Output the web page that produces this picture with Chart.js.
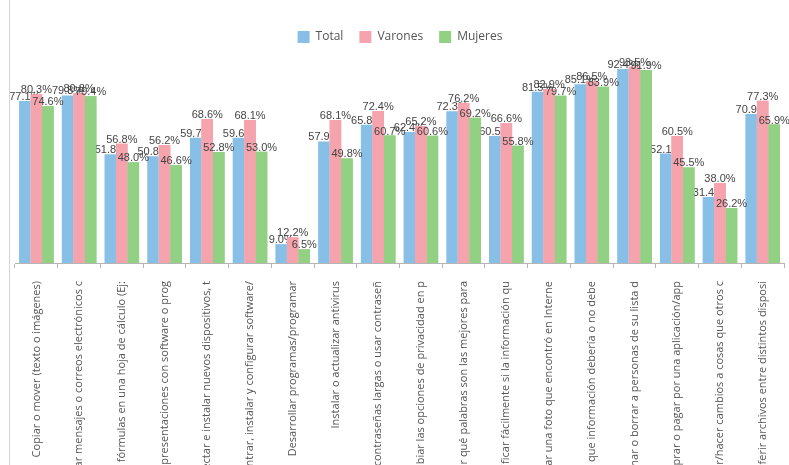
<!DOCTYPE html>
<html>
<head>
<meta charset="utf-8">
<script src="https://cdn.jsdelivr.net/npm/chart.js@4.4.1/dist/chart.umd.min.js"></script>
<style>
  html, body { margin: 0; padding: 0; background: #fff; }
  #wrap { position: relative; width: 789px; height: 465px; }
  #edge { position: absolute; left: 9px; top: 0; width: 1px; height: 465px; background: #d4d4d4; }
</style>
</head>
<body>
<div id="wrap">
  <canvas id="c" width="789" height="465"></canvas>
  <div id="edge"></div>
</div>
<script>
const categories = [
  "Copiar o mover (texto o imágenes)",
  "Enviar mensajes o correos electrónicos c",
  "Usar fórmulas en una hoja de cálculo (Ej:",
  "Crear presentaciones con software o prog",
  "Conectar e instalar nuevos dispositivos, t",
  "Encontrar, instalar y configurar software/",
  "Desarrollar programas/programar",
  "Instalar o actualizar antivirus",
  "Usar contraseñas largas o usar contraseñ",
  "Cambiar las opciones de privacidad en p",
  "Saber qué palabras son las mejores para",
  "Identificar fácilmente si la información qu",
  "Guardar una foto que encontró en Interne",
  "Saber que información debería o no debe",
  "Eliminar o borrar a personas de su lista d",
  "Comprar o pagar por una aplicación/app",
  "Editar/hacer cambios a cosas que otros c",
  "Transferir archivos entre distintos disposi"
];
const seriesNames = ["Total", "Varones", "Mujeres"];
const totalValues   = [77.1, 79.8, 51.8, 50.8, 59.7, 59.6,  9.0, 57.9, 65.8, 62.4, 72.3, 60.5, 81.5, 85.1, 92.4, 52.1, 31.4, 70.9];
const varonesValues = [80.3, 80.8, 56.8, 56.2, 68.6, 68.1, 12.2, 68.1, 72.4, 65.2, 76.2, 66.6, 82.9, 86.5, 93.5, 60.5, 38.0, 77.3];
const mujeresValues = [74.6, 79.4, 48.0, 46.6, 52.8, 53.0,  6.5, 49.8, 60.7, 60.6, 69.2, 55.8, 79.7, 83.9, 91.9, 45.5, 26.2, 65.9];

const colors = ["#88bfe6", "#f5a3ad", "#92d083"];

const barLabels = {
  id: 'barLabels',
  afterDatasetsDraw(chart) {
    const ctx = chart.ctx;
    const area = chart.chartArea;
    const n = chart.data.datasets.length;
    for (let i = 0; i < n; i++) {
      const meta = chart.getDatasetMeta(i);
      if (i > 0) {
        ctx.save();
        ctx.beginPath();
        ctx.rect(area.left, area.top - 20, area.right - area.left, area.bottom - area.top + 20);
        ctx.clip();
        meta.data.forEach(el => el.draw(ctx));
        ctx.restore();
      }
      ctx.save();
      ctx.font = '11px "Liberation Sans", Arial, sans-serif';
      ctx.fillStyle = '#444';
      ctx.textAlign = 'center';
      ctx.textBaseline = 'alphabetic';
      const vals = chart.data.datasets[i].data;
      meta.data.forEach((el, j) => {
        ctx.fillText(vals[j].toFixed(1) + '%', el.x, el.y - 1);
      });
      ctx.restore();
    }
  }
};

new Chart(document.getElementById('c'), {
  type: 'bar',
  data: {
    labels: categories,
    datasets: [
      { label: seriesNames[0], data: totalValues,   backgroundColor: colors[0] },
      { label: seriesNames[1], data: varonesValues, backgroundColor: colors[1] },
      { label: seriesNames[2], data: mujeresValues, backgroundColor: colors[2] }
    ]
  },
  options: {
    responsive: false,
    animation: false,
    events: [],
    layout: { padding: { left: 15, right: 4, top: 15, bottom: 0 } },
    datasets: { bar: { categoryPercentage: 0.81, barPercentage: 1.0 } },
    plugins: {
      legend: {
        position: 'top',
        labels: {
          boxWidth: 12, boxHeight: 12, padding: 16,
          color: '#555',
          font: { family: '"Open Sans", "Noto Sans", sans-serif', size: 12 }
        }
      },
      tooltip: { enabled: false }
    },
    scales: {
      x: {
        offset: true,
        grid: { offset: true, drawOnChartArea: false, drawTicks: true, tickLength: 5, color: '#b5b5b5' },
        border: { display: true, color: '#b5b5b5' },
        ticks: {
          autoSkip: false, minRotation: 90, maxRotation: 90, padding: 13,
          color: '#555',
          font: { family: '"Open Sans", "Noto Sans", sans-serif', size: 11 }
        },
        afterFit(scale) { scale.height = 202; }
      },
      y: {
        display: false,
        min: 0, max: 100
      }
    }
  },
  plugins: [barLabels]
});
</script>
</body>
</html>
